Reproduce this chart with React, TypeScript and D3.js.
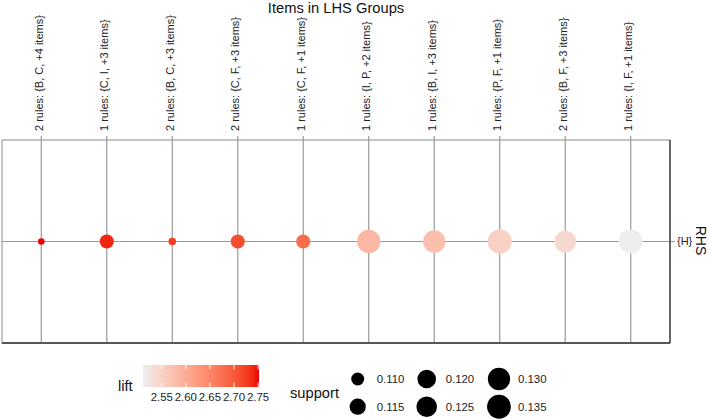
import React from "react";
import * as d3 from "d3";

const groups = [
  "2 rules: {B, C, +4 items}",
  "1 rules: {C, I, +3 items}",
  "2 rules: {B, C, +3 items}",
  "2 rules: {C, F, +3 items}",
  "1 rules: {C, F, +1 items}",
  "1 rules: {I, P, +2 items}",
  "1 rules: {B, I, +3 items}",
  "1 rules: {P, F, +1 items}",
  "2 rules: {B, F, +3 items}",
  "1 rules: {I, F, +1 items}",
];
const rhsLabels = ["{H}"];
const lift = [2.752, 2.74, 2.725, 2.71, 2.68, 2.585, 2.575, 2.552, 2.54, 2.511];
const support = [0.106, 0.1114, 0.1061, 0.1115, 0.1114, 0.1332, 0.13, 0.1355, 0.1282, 0.1352];
const liftTicks = [2.55, 2.6, 2.65, 2.7, 2.75];
const supportLegend = [0.11, 0.115, 0.12, 0.125, 0.13, 0.135];

const FONT = "'Liberation Sans', Arial, sans-serif";

export default function App() {
  const W = 708, H = 420;
  const pL = 2, pR = 670, pT = 140, pB = 343;

  const x = d3.scalePoint<string>().domain(groups).range([pL, pR]).padding(0.6);
  const y = d3.scalePoint<string>().domain(rhsLabels).range([pT, pB]).padding(0.5);

  const liftDomain = [2.511, 2.752];
  const color = d3.scaleLinear<string>().domain(liftDomain).range(["#EEEEEE", "#EE0000"]).interpolate(d3.interpolateLab);

  const suppT = d3.scaleLinear().domain([0.106, 0.1355]).range([0, 1]).clamp(true);
  const rad = d3.scaleLinear().domain([0, 1]).range([3.3, 12]);
  const r = (v: number) => rad(Math.sqrt(suppT(v)));

  // colorbar
  const cbX0 = 143, cbX1 = 259, cbY0 = 365, cbY1 = 387;
  const cbScale = d3.scaleLinear().domain(liftDomain).range([cbX0, cbX1]);
  const stops = d3.range(0, 1.0001, 0.05);

  const yc = y(rhsLabels[0])!;

  // support legend layout
  const legColX = [357.7, 426.7, 499];
  const legRowY = [379, 406.7];

  return (
    <svg width={W} height={H} style={{ position: "absolute", left: 0, top: 0, background: "#fff" }} fontFamily={FONT}>
      <defs>
        <linearGradient id="liftgrad" x1="0" x2="1" y1="0" y2="0">
          {stops.map((s) => (
            <stop key={s} offset={s} stopColor={color(liftDomain[0] + s * (liftDomain[1] - liftDomain[0]))} />
          ))}
        </linearGradient>
      </defs>
      <text x={(pL + pR) / 2} y={12.5} textAnchor="middle" fontSize={14.7} fill="#111">Items in LHS Groups</text>

      {/* panel */}
      <rect x={pL} y={pT} width={pR - pL} height={pB - pT} fill="#fff" stroke="#8a8a8a" strokeWidth={1} />
      {groups.map((g) => (
        <g key={g}>
          <line x1={x(g)} x2={x(g)} y1={pT - 4} y2={pB} stroke="#9a9a9a" strokeWidth={1.2} />
          <text
            transform={`translate(${x(g)! + 1.5},${pT - 9}) rotate(-90)`}
            fontSize={11}
            fill="#222"
          >
            {g}
          </text>
        </g>
      ))}
      {rhsLabels.map((rl) => (
        <g key={rl}>
          <line x1={pL} x2={pR + 5} y1={y(rl)} y2={y(rl)} stroke="#9a9a9a" strokeWidth={1.2} />
          <text x={pR + 7} y={y(rl)} dy="0.35em" fontSize={11} fill="#222">{rl}</text>
        </g>
      ))}
      <line x1={pR} x2={pR} y1={pT} y2={pB} stroke="#333" strokeWidth={1.3} />
      <line x1={pL} x2={pR} y1={pB} y2={pB} stroke="#333" strokeWidth={1.3} />
      <text transform={`translate(695.5,${yc - 1}) rotate(90)`} textAnchor="middle" fontSize={14} fill="#111">RHS</text>

      {groups.map((g, i) => (
        <circle key={g} cx={x(g)} cy={yc} r={r(support[i])} fill={color(lift[i])} />
      ))}

      {/* lift legend */}
      <text x={118} y={391} fontSize={14.7} fill="#111">lift</text>
      <rect x={cbX0} y={cbY0} width={cbX1 - cbX0} height={cbY1 - cbY0} fill="url(#liftgrad)" />
      {liftTicks.map((t) => (
        <g key={t}>
          <line x1={cbScale(t)} x2={cbScale(t)} y1={cbY0} y2={cbY0 + 4.4} stroke="#fff" strokeWidth={1} />
          <line x1={cbScale(t)} x2={cbScale(t)} y1={cbY1 - 4.4} y2={cbY1} stroke="#fff" strokeWidth={1} />
          <text x={cbScale(t)} y={cbY1 + 14} textAnchor="middle" fontSize={11.4} fill="#222">{t.toFixed(2)}</text>
        </g>
      ))}

      {/* support legend */}
      <text x={290} y={398} fontSize={14.7} fill="#111">support</text>
      {supportLegend.map((s, i) => {
        const col = Math.floor(i / 2);
        const row = i % 2;
        return (
          <g key={s}>
            <circle cx={legColX[col]} cy={legRowY[row]} r={r(s)} fill="#000" />
            <text x={legColX[col] + 19} y={legRowY[row]} dy="0.35em" fontSize={11.4} fill="#222">{s.toFixed(3)}</text>
          </g>
        );
      })}
    </svg>
  );
}
